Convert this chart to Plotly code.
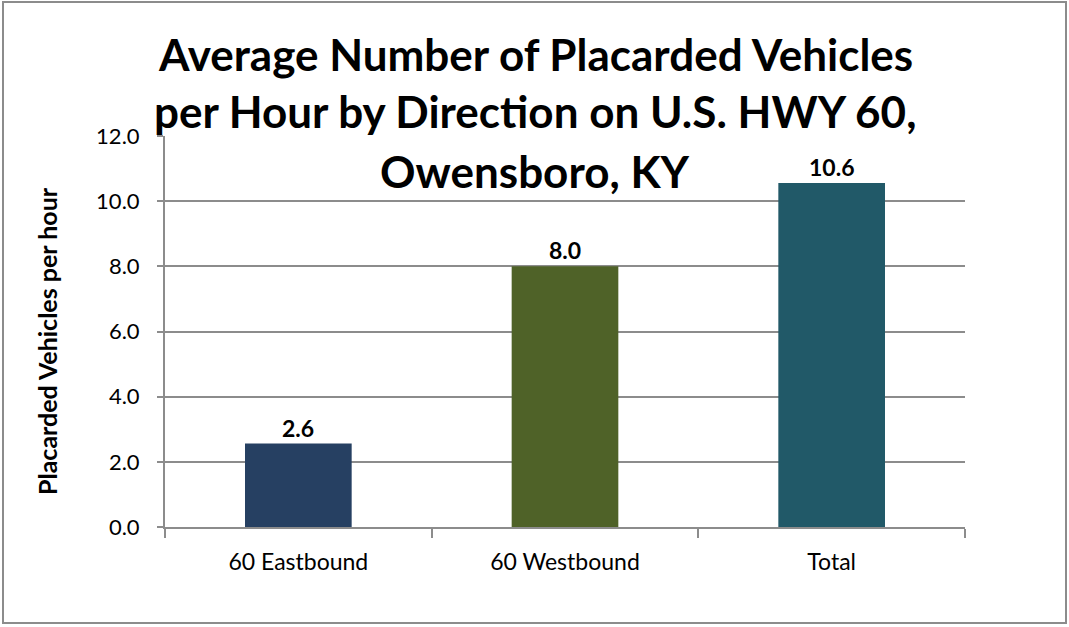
import plotly.graph_objects as go

categories = ["60 Eastbound", "60 Westbound", "Total"]
values = [2.56, 8.0, 10.56]
colors = ["#264062", "#4F6228", "#215968"]
tick_vals = [0, 2, 4, 6, 8, 10, 12]
tick_text = ["0.0", "2.0", "4.0", "6.0", "8.0", "10.0", "12.0"]
title_lines = ["Average Number of Placarded Vehicles",
               "per Hour by Direction on U.S. HWY 60,",
               "Owensboro, KY"]
y_title = "Placarded Vehicles per hour"

W, H = 1069, 627
L, R, T, B = 165, 965, 136, 527

FONT = "Lato, Open Sans, sans-serif"

fig = go.Figure()
fig.add_trace(go.Bar(
    x=categories, y=values, marker=dict(color=colors, line=dict(width=0)),
    hoverinfo="x+y",
))

for c, v in zip(categories, values):
    fig.add_annotation(
        x=c, y=v, text=f"{v:.1f}", showarrow=False,
        xanchor="center", yanchor="bottom", yshift=0,
        font=dict(family=FONT, size=23, color="black", weight="bold"),
    )

def px_x(p):
    return (p - L) / (R - L)

def px_y(p):
    return (B - p) / (B - T)

fig.update_layout(
    width=W, height=H,
    margin=dict(l=L, r=W - R, t=T, b=H - B),
    plot_bgcolor="white", paper_bgcolor="white",
    bargap=0.6,
    showlegend=False,
    font=dict(family=FONT, color="black"),
    xaxis=dict(
        type="category", tickson="boundaries", ticks="outside", ticklen=9,
        tickcolor="#8c8c8c", tickwidth=2,
        showline=True, linecolor="#8c8c8c", linewidth=2,
        showgrid=False, tickfont=dict(size=23, family=FONT),
        ticklabelstandoff=13,
    ),
    yaxis=dict(
        range=[0, 12], tickvals=tick_vals, ticktext=tick_text,
        ticks="outside", ticklen=6, tickcolor="#8c8c8c", tickwidth=2,
        showline=True, linecolor="#8c8c8c", linewidth=2,
        showgrid=True, gridcolor="#8c8c8c", gridwidth=2,
        zeroline=False, tickfont=dict(size=22, family=FONT),
        ticklabelstandoff=13,
    ),
)

fig.add_annotation(
    text=y_title, xref="paper", yref="paper",
    x=px_x(47), y=px_y(341), xanchor="center", yanchor="middle",
    textangle=-90, showarrow=False,
    font=dict(family=FONT, size=25, color="black", weight="bold"),
)

title_y = [54, 111, 171]
for line, yp in zip(title_lines, title_y):
    fig.add_annotation(
        text=line, xref="paper", yref="paper",
        x=px_x(535), y=px_y(yp), xanchor="center", yanchor="middle",
        showarrow=False,
        font=dict(family=FONT, size=44, color="black", weight="bold"),
    )

fig.add_shape(type="rect", xref="paper", yref="paper",
              x0=px_x(3), x1=px_x(1066), y0=px_y(623), y1=px_y(2),
              line=dict(color="#8c8c8c", width=2), layer="below")

fig.write_html("out.html", config={"displayModeBar": False},
               post_script="document.body.style.margin='0';")
